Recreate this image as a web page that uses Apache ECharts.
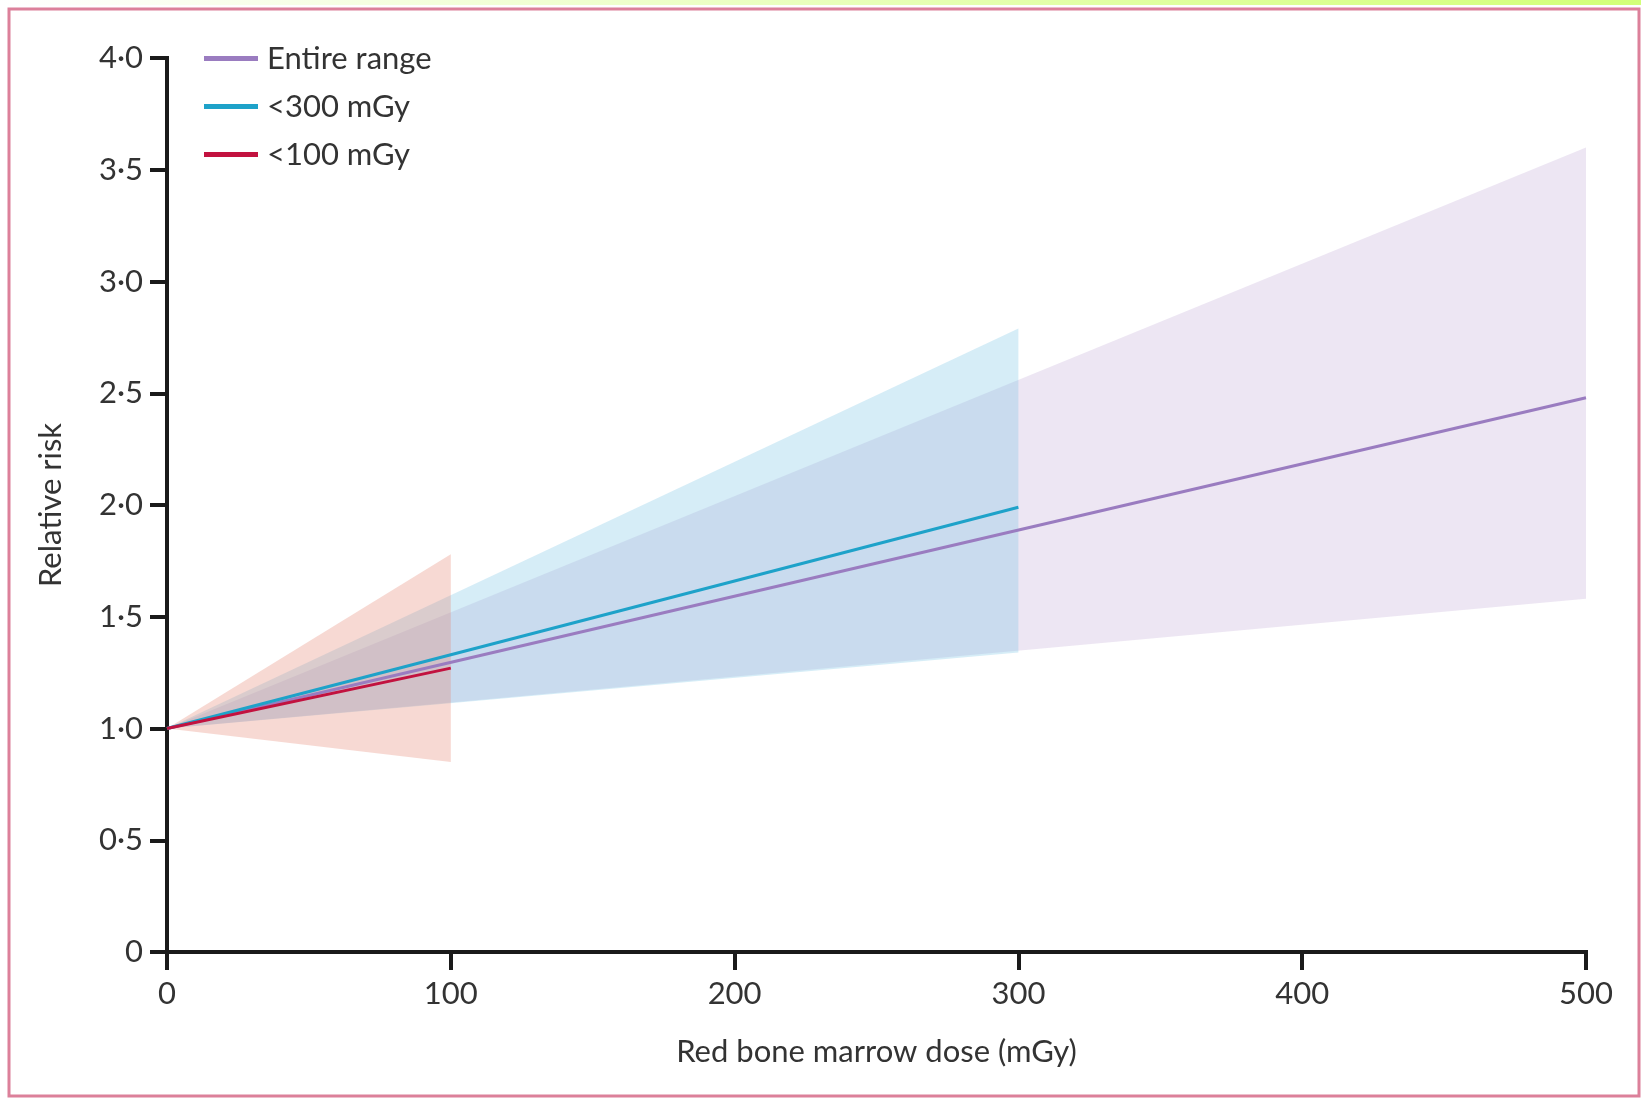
<!DOCTYPE html>
<html>
<head>
<meta charset="utf-8">
<script src="https://cdn.jsdelivr.net/npm/echarts@6/dist/echarts.min.js"></script>
<style>
html,body{margin:0;padding:0;background:#fff;}
#chart{width:1641px;height:1098px;}
</style>
</head>
<body>
<div id="chart"></div>
<script>
// ---- data ----
var seriesNames = ['Entire range', '<300 mGy', '<100 mGy'];
// dose points (mGy) for each fit
var entireX = [0, 500];
var entireRR = [1.0, 2.48];
var entireLower = [1.0, 1.58];
var entireUpper = [1.0, 3.60];

var below300X = [0, 300];
var below300RR = [1.0, 1.99];
var below300Lower = [1.0, 1.34];
var below300Upper = [1.0, 2.79];

var below100X = [0, 100];
var below100RR = [1.0, 1.27];
var below100Lower = [1.0, 0.85];
var below100Upper = [1.0, 1.78];

var xTickValues = [0, 100, 200, 300, 400, 500];
var yTickLabels = ['0', '0·5', '1·0', '1·5', '2·0', '2·5', '3·0', '3·5', '4·0'];

var lineColors = ['#9a7cc0', '#1ea2c9', '#c2123f'];
var bandColors = ['rgba(140,100,180,0.16)', 'rgba(120,195,230,0.30)', 'rgba(230,130,110,0.30)'];

var FONT = 'Lato, "Noto Sans", sans-serif';
var TXT = '#333333';

function pairs(xs, ys) { return xs.map(function (x, i) { return [x, ys[i]]; }); }

// confidence band drawn as a polygon through the axis scales
function bandSeries(key, xs, lo, hi, color, z) {
  var data = xs.map(function (x, i) { return [x, lo[i], hi[i]]; });
  return {
    name: key + ' band', type: 'custom', silent: true, z: z,
    encode: { x: 0, y: [1, 2] },
    data: data,
    renderItem: function (params, api) {
      if (params.dataIndex !== 0) return null;
      var pts = [];
      for (var i = 0; i < data.length; i++) pts.push(api.coord([data[i][0], data[i][2]]));
      for (var j = data.length - 1; j >= 0; j--) pts.push(api.coord([data[j][0], data[j][1]]));
      return { type: 'polygon', shape: { points: pts }, style: { fill: color } };
    }
  };
}

function lineSeries(name, xs, ys, color, z) {
  return {
    name: name, type: 'line', data: pairs(xs, ys), symbol: 'none',
    lineStyle: { color: color, width: 3 }, itemStyle: { color: color }, z: z
  };
}

var series = [
  bandSeries('entire', entireX, entireLower, entireUpper, bandColors[0], 1),
  bandSeries('b300', below300X, below300Lower, below300Upper, bandColors[1], 2),
  bandSeries('b100', below100X, below100Lower, below100Upper, bandColors[2], 3),
  lineSeries(seriesNames[0], entireX, entireRR, lineColors[0], 5),
  lineSeries(seriesNames[1], below300X, below300RR, lineColors[1], 6),
  lineSeries(seriesNames[2], below100X, below100RR, lineColors[2], 7)
];

var chart = echarts.init(document.getElementById('chart'), null, { renderer: 'canvas' });
chart.setOption({
  backgroundColor: '#ffffff',
  animation: false,
  textStyle: { fontFamily: FONT },
  graphic: [
    {
      type: 'rect', left: 0, top: 0, z: 100,
      shape: { width: 1641, height: 5 },
      style: {
        fill: new echarts.graphic.LinearGradient(0, 0, 1, 0, [
          { offset: 0, color: '#ffffff' },
          { offset: 1, color: '#d2ff78' }
        ])
      }
    },
    {
      type: 'rect', z: 100, silent: true,
      shape: { x: 9, y: 9, width: 1630, height: 1087 },
      style: { fill: 'none', stroke: '#dc809a', lineWidth: 3 }
    }
  ],
  grid: { left: 167, right: 55, top: 58, bottom: 146, containLabel: false },
  legend: {
    data: seriesNames,
    orient: 'vertical',
    left: 204, top: 43, padding: 0,
    icon: 'rect', itemWidth: 54, itemHeight: 5, itemGap: 17,
    textStyle: { fontFamily: FONT, fontSize: 31, color: TXT, lineHeight: 31, padding: [0, 0, 0, 4] },
    selectedMode: false
  },
  xAxis: {
    type: 'value', min: 0, max: 500, interval: 100,
    name: 'Red bone marrow dose (mGy)', nameLocation: 'middle', nameGap: 84,
    nameTextStyle: { fontFamily: FONT, fontSize: 31, color: TXT },
    axisLine: { show: true, lineStyle: { color: '#1a1a1a', width: 4, cap: 'square' } },
    axisTick: { show: true, length: 18, lineStyle: { color: '#1a1a1a', width: 4 } },
    axisLabel: {
      fontFamily: FONT, fontSize: 31, color: TXT, margin: 26,
      formatter: function (v) { return xTickValues.indexOf(v) >= 0 ? String(v) : ''; }
    },
    splitLine: { show: false }
  },
  yAxis: {
    type: 'value', min: 0, max: 4, interval: 0.5,
    name: 'Relative risk', nameLocation: 'middle', nameGap: 101,
    nameTextStyle: { fontFamily: FONT, fontSize: 31, color: TXT },
    axisLine: { show: true, lineStyle: { color: '#1a1a1a', width: 4, cap: 'square' } },
    axisTick: { show: true, length: 17, lineStyle: { color: '#1a1a1a', width: 4 } },
    axisLabel: {
      fontFamily: FONT, fontSize: 31, color: TXT, margin: 24,
      formatter: function (v) { return yTickLabels[Math.round(v / 0.5)]; }
    },
    splitLine: { show: false }
  },
  series: series
});
</script>
</body>
</html>
